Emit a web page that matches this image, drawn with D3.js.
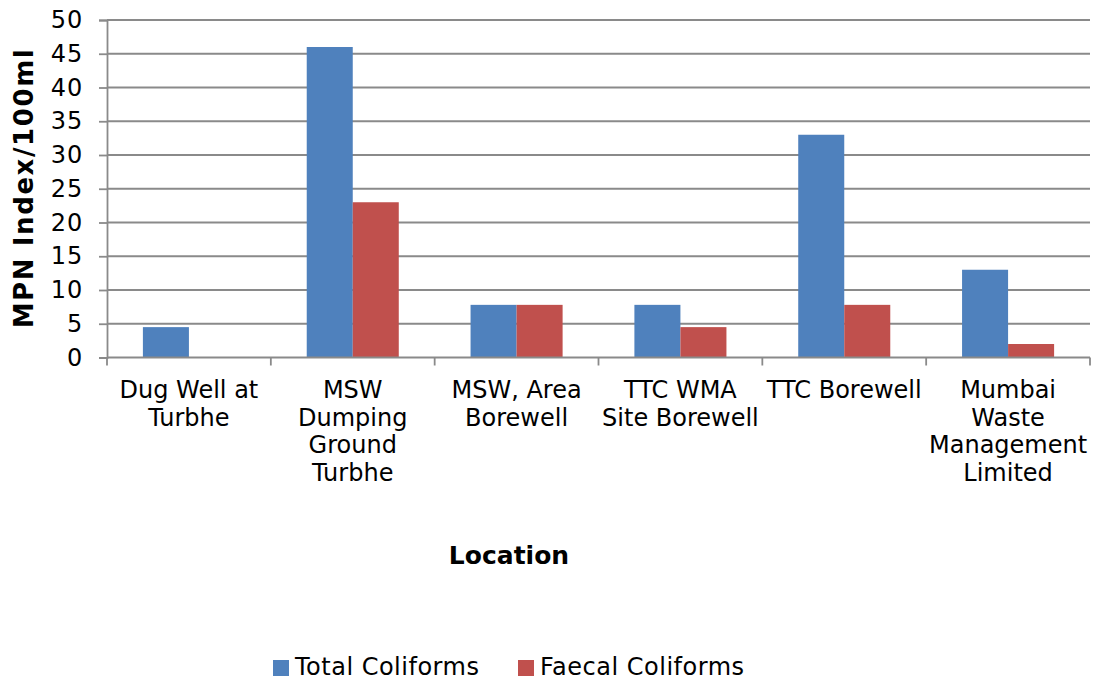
<!DOCTYPE html>
<html>
<head>
<meta charset="utf-8">
<script src="https://cdn.jsdelivr.net/npm/d3@7"></script>
<style>
  html, body { margin: 0; padding: 0; background: #fff; }
  svg text { font-family: "DejaVu Sans", Verdana, sans-serif; fill: #000; }
</style>
</head>
<body>
<svg id="chart" width="1098" height="681"></svg>
<script>
// Sampling locations and coliform counts (MPN Index/100ml)
const categories = [
  "Dug Well at Turbhe",
  "MSW Dumping Ground Turbhe",
  "MSW, Area Borewell",
  "TTC WMA Site Borewell",
  "TTC Borewell",
  "Mumbai Waste Management Limited"
];
const seriesNames = ["Total Coliforms", "Faecal Coliforms"];
const totalColiforms = [4.5, 46, 7.8, 7.8, 33, 13];
const faecalColiforms = [0, 23, 7.8, 4.5, 7.8, 2];
const yTicks = [0, 5, 10, 15, 20, 25, 30, 35, 40, 45, 50];
const colors = ["#4F81BD", "#C0504D"];

const seriesValues = [totalColiforms, faecalColiforms];
const rows = categories.map((c, i) => ({ category: c, values: seriesValues.map(s => s[i]) }));

const svg = d3.select("#chart");
const plot = { left: 107, right: 1090, top: 20, bottom: 357.5 };
const gridColor = "#8a8a8a";

const x = d3.scaleBand().domain(categories).range([plot.left, plot.right]).paddingInner(0).paddingOuter(0);
const x1 = d3.scaleBand().domain(seriesNames).range([0, x.bandwidth()]).paddingInner(0).paddingOuter(0.78);
const y = d3.scaleLinear().domain([0, 50]).range([plot.bottom, plot.top]);

// Horizontal gridlines
svg.append("g")
  .selectAll("line")
  .data(yTicks.filter(t => t > 0))
  .join("line")
  .attr("x1", plot.left).attr("x2", plot.right)
  .attr("y1", d => y(d)).attr("y2", d => y(d))
  .attr("stroke", gridColor).attr("stroke-width", 1.8);

// Bars
const groups = svg.append("g")
  .selectAll("g")
  .data(rows)
  .join("g")
  .attr("transform", d => `translate(${x(d.category)},0)`);

groups.selectAll("rect")
  .data(d => d.values.map((v, i) => ({ name: seriesNames[i], value: v, color: colors[i] })))
  .join("rect")
  .attr("x", d => x1(d.name))
  .attr("width", x1.bandwidth())
  .attr("y", d => y(d.value))
  .attr("height", d => y(0) - y(d.value))
  .attr("fill", d => d.color);

// Y axis
const yAxis = svg.append("g")
  .attr("transform", `translate(${plot.left},0)`)
  .call(d3.axisLeft(y).tickValues(yTicks).tickSize(8).tickPadding(16));
yAxis.select(".domain").attr("stroke", gridColor).attr("stroke-width", 1.8);
yAxis.selectAll(".tick line").attr("stroke", gridColor).attr("stroke-width", 1.8);
yAxis.selectAll(".tick text")
  .style("font-family", '"DejaVu Sans", Verdana, sans-serif')
  .style("font-size", "24px").style("letter-spacing", "0.8px").attr("fill", "#000");

// X axis: baseline and boundary ticks between categories
svg.append("line")
  .attr("x1", plot.left).attr("x2", plot.right)
  .attr("y1", plot.bottom).attr("y2", plot.bottom)
  .attr("stroke", gridColor).attr("stroke-width", 1.8);

const boundaries = categories.map(c => x(c)).concat([x(categories[categories.length - 1]) + x.bandwidth()]);
svg.append("g")
  .selectAll("line")
  .data(boundaries)
  .join("line")
  .attr("x1", d => d).attr("x2", d => d)
  .attr("y1", plot.bottom).attr("y2", plot.bottom + 8)
  .attr("stroke", gridColor).attr("stroke-width", 1.8);

// Category labels, wrapped to the width of each band
const labelSize = 24;
const lineHeight = 27.5;
const labels = svg.append("g")
  .selectAll("text")
  .data(categories)
  .join("text")
  .attr("text-anchor", "middle")
  .style("font-size", labelSize + "px")
  .attr("x", d => x(d) + x.bandwidth() / 2)
  .attr("y", 398);

labels.each(function(d) {
  const el = d3.select(this);
  const cx = x(d) + x.bandwidth() / 2;
  const words = d.split(" ");
  const maxW = x.bandwidth() - 4;
  let lines = [];
  let line = [];
  const probe = el.append("tspan");
  words.forEach(w => {
    const test = line.concat([w]).join(" ");
    probe.text(test);
    if (probe.node().getComputedTextLength() > maxW && line.length) {
      lines.push(line.join(" "));
      line = [w];
    } else {
      line.push(w);
    }
  });
  if (line.length) lines.push(line.join(" "));
  probe.remove();
  lines.forEach((ln, i) => {
    el.append("tspan").attr("x", cx).attr("dy", i === 0 ? 0 : lineHeight).text(ln);
  });
});

// Axis titles
svg.append("text")
  .attr("text-anchor", "middle")
  .attr("x", 509).attr("y", 564)
  .style("font-size", "25px").style("font-weight", "bold")
  .text("Location");

svg.append("text")
  .attr("text-anchor", "middle")
  .attr("transform", "translate(33,188) rotate(-90)")
  .style("font-size", "26px").style("font-weight", "bold")
  .style("letter-spacing", "1.6px")
  .text("MPN Index/100ml");

// Legend
const legendItems = [
  { name: seriesNames[0], color: colors[0], x: 273 },
  { name: seriesNames[1], color: colors[1], x: 518 }
];
const legend = svg.append("g")
  .selectAll("g")
  .data(legendItems)
  .join("g")
  .attr("transform", d => `translate(${d.x},0)`);
legend.append("rect")
  .attr("x", 0).attr("y", 660)
  .attr("width", 16).attr("height", 16)
  .attr("fill", d => d.color);
legend.append("text")
  .attr("x", 22).attr("y", 675)
  .style("font-size", "24px").style("letter-spacing", "0.5px")
  .text(d => d.name);
</script>
</body>
</html>
